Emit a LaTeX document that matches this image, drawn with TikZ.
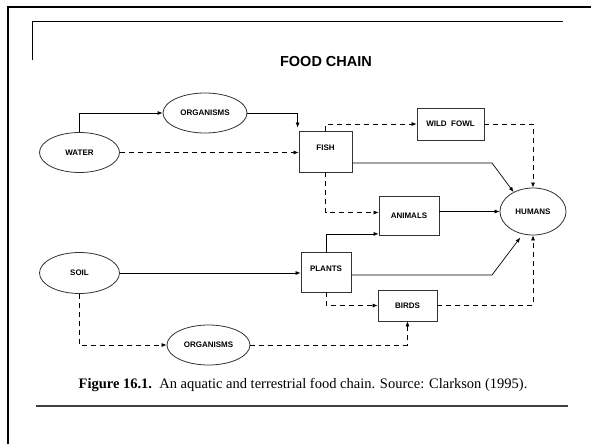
\documentclass[tikz,border=0pt]{standalone}
\usepackage{fontspec}
\setmainfont{Liberation Serif}
\newfontfamily\labelfont{Liberation Sans}
\usetikzlibrary{shapes.geometric,arrows.meta}

\begin{document}
\begin{tikzpicture}[x=1pt,y=-1pt,
    box/.style={draw=black!80, line width=0.8pt, rectangle, inner sep=0pt, font=\labelfont\bfseries\fontsize{8}{9}\selectfont},
    oval/.style={draw=black!80, line width=0.8pt, ellipse, inner sep=0pt, font=\labelfont\bfseries\fontsize{8}{9}\selectfont},
    flow/.style={line width=0.7pt, -{Latex[length=5pt,width=4pt]}},
    dflow/.style={flow, dash pattern=on 5pt off 4pt}]
\useasboundingbox (0,0) rectangle (591,444);
% frame
\draw[line width=2.5pt] (8,444) -- (8,7) -- (591,7);
\draw[line width=0.9pt] (32,60) -- (32,21) -- (563,21);
\draw[line width=1.2pt, black!75] (36,406) -- (568,406);
\node (title) at (326,62) {\labelfont\bfseries\fontsize{14.5}{16}\selectfont FOOD CHAIN};
% sources
\node[oval, minimum width=80pt, minimum height=40pt] (water) at (79.5,152.5) {WATER};
\node[oval, minimum width=80pt, minimum height=41pt] (soil) at (79.5,273) {SOIL};
\node[oval, minimum width=84pt, minimum height=40pt] (org1) at (205,113) {ORGANISMS};
\node[oval, minimum width=83pt, minimum height=40pt] (org2) at (208.5,345) {ORGANISMS};
% boxes
\node[box, minimum width=53pt, minimum height=41pt, text depth=8pt] (fish) at (325.5,151.5) {FISH};
\node[box, minimum width=50pt, minimum height=40pt, text depth=6pt] (plants) at (326,272) {PLANTS};
\node[box, minimum width=67pt, minimum height=32pt] (wildfowl) at (450.5,124) {WILD\ \ FOWL};
\node[box, minimum width=60pt, minimum height=39pt] (animals) at (409,215.5) {ANIMALS};
\node[box, minimum width=59pt, minimum height=31pt] (birds) at (407.5,305.5) {BIRDS};
\node[oval, minimum width=66pt, minimum height=47pt] (humans) at (533,211.5) {HUMANS};
% bends
\coordinate (fbend) at (492,163);
\coordinate (pbend) at (492,275);
% water side
\draw[flow] (water.north) |- (org1.west);
\draw[flow] (org1.east) -| ([xshift=-1pt,yshift=3pt]fish.north west);
\draw[dflow] (water.east) -- (water.east -| fish.west);
\draw[dflow] (fish.north) |- (wildfowl.west);
\draw[dflow] (wildfowl.east) -| (humans.north);
\draw[flow] (fish.east |- fbend) -- (fbend) -- (humans.135);
\draw[dflow] (fish.south) |- ([yshift=3pt]animals.west);
\draw[flow] (animals.east |- humans.west) -- (humans.west);
% soil side
\draw[flow] (soil.east) -- (soil.east -| plants.west);
\draw[flow] (plants.north) |- ([yshift=1.5pt]animals.south west);
\draw[flow] (plants.east |- pbend) -- (pbend) -- ([yshift=-4pt]humans.240);
\draw[dflow] (plants.south) |- (birds.west);
\draw[dflow] (birds.east) -| (humans.south);
\draw[dflow] (soil.south) |- (org2.west);
\draw[dflow] (org2.east) -| (birds.south);
% caption
\node (caption) at (303,385) {\fontsize{14.5}{16}\selectfont\textbf{Figure 16.1.}\ \ An aquatic and terrestrial food chain. Source: Clarkson (1995).};
\end{tikzpicture}
\end{document}
